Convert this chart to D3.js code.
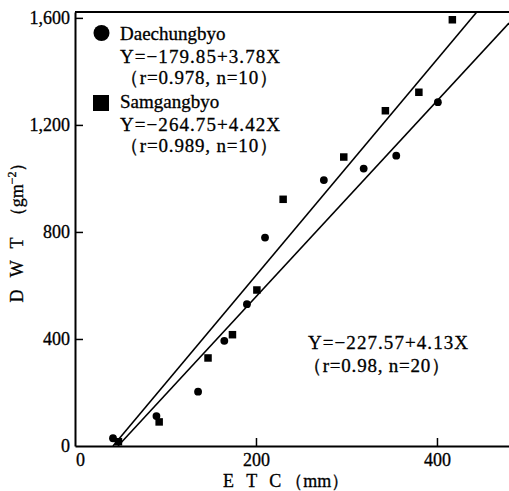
<!DOCTYPE html>
<html>
<head>
<meta charset="utf-8">
<script src="https://cdn.jsdelivr.net/npm/d3@7"></script>
<style>
  body { margin: 0; background: #fff; }
  svg { display: block; }
  text { font-family: "Liberation Serif", "Times New Roman", serif; fill: #000; stroke: #000; stroke-width: 0.3px; }
</style>
</head>
<body>
<div id="wrapper"></div>
<script>

// 1. Data
const daechungEtc = [42, 90, 136, 165, 190, 210, 275, 319, 355, 401]
const daechungDwt = [29, 112, 203, 393, 530, 779, 994, 1037, 1085, 1285]
const samgangEtc = [48, 93, 147, 174, 201, 230, 297, 343, 380, 417]
const samgangDwt = [16, 90, 329, 416, 583, 922, 1080, 1253, 1322, 1593]

// the two regression lines as they are drawn: [start, end]
const lineEtc = [[42, 444], [47.5, 479.6]]
const lineDwt = [[0, 1622], [0, 1581]]

const xTicks = [0, 200, 400]
const yTicks = [0, 400, 800, 1200, 1600]

const seriesNames = ["Daechungbyo", "Samgangbyo"]
const seriesEquations = ["Y=−179.85+3.78X", "Y=−264.75+4.42X"]
const seriesStats = ["（r=0.978,  n=10）", "（r=0.989,  n=10）"]
const pooledEquation = "Y=−227.57+4.13X"
const pooledStats = "（r=0.98,  n=20）"

// 2. Dimensions
let dimensions = {
  width: 509,
  height: 491,
  margin: { top: 12, right: 0, bottom: 45, left: 75 },
}
dimensions.boundedWidth = dimensions.width - dimensions.margin.left - dimensions.margin.right
dimensions.boundedHeight = dimensions.height - dimensions.margin.top - dimensions.margin.bottom

// 3. Canvas
const wrapper = d3.select("#wrapper")
  .append("svg")
    .attr("width", dimensions.width)
    .attr("height", dimensions.height)

const bounds = wrapper.append("g")
    .attr("transform", `translate(${dimensions.margin.left},${dimensions.margin.top})`)

// 4. Scales
const xScale = d3.scaleLinear()
  .domain([0, 479.6])
  .range([0, dimensions.boundedWidth])

const yScale = d3.scaleLinear()
  .domain([0, 1622])
  .range([dimensions.boundedHeight, 0])

// 5. Data marks
const lineGenerator = d3.line()
  .x(d => xScale(d[0]))
  .y(d => yScale(d[1]))

lineEtc.forEach((xs, i) => {
  bounds.append("path")
    .attr("d", lineGenerator(xs.map((x, j) => [x, lineDwt[i][j]])))
    .attr("fill", "none")
    .attr("stroke", "#000")
    .attr("stroke-width", 1.6)
})

bounds.selectAll(".dae")
  .data(daechungEtc)
  .join("circle")
    .attr("class", "dae")
    .attr("cx", d => xScale(d))
    .attr("cy", (d, i) => yScale(daechungDwt[i]))
    .attr("r", 3.9)
    .attr("fill", "#000")

const sq = 7.5
bounds.selectAll(".sam")
  .data(samgangEtc)
  .join("rect")
    .attr("class", "sam")
    .attr("x", d => xScale(d) - sq / 2)
    .attr("y", (d, i) => yScale(samgangDwt[i]) - sq / 2)
    .attr("width", sq)
    .attr("height", sq)
    .attr("fill", "#000")

// 6. Peripherals
const yAxisGenerator = d3.axisLeft(yScale)
  .tickValues(yTicks)
  .tickFormat(d3.format(","))
  .tickSizeInner(-8)
  .tickSizeOuter(0)
  .tickPadding(5)

const yAxis = bounds.append("g").call(yAxisGenerator)

const xAxisGenerator = d3.axisBottom(xScale)
  .tickValues(xTicks)
  .tickSizeInner(-8)
  .tickSizeOuter(0)
  .tickPadding(7)

const xAxis = bounds.append("g")
  .attr("transform", `translate(0,${dimensions.boundedHeight})`)
  .call(xAxisGenerator)

;[xAxis, yAxis].forEach(ax => {
  ax.select(".domain").attr("stroke", "#000").attr("stroke-width", 2)
  ax.selectAll(".tick line").attr("stroke", "#000").attr("stroke-width", 1.5)
  ax.selectAll(".tick text").style("font-size", "18px").attr("fill", "#000")
})
xAxis.selectAll(".tick").filter(d => d === 0).select("line").remove()
xAxis.selectAll(".tick").filter(d => d === 0).select("text").attr("dx", 5)
yAxis.selectAll(".tick").filter(d => d === 0).select("line").remove()

// top frame line
bounds.append("line")
  .attr("x1", 0)
  .attr("x2", dimensions.boundedWidth)
  .attr("y1", 0)
  .attr("y2", 0)
  .attr("stroke", "#000")
  .attr("stroke-width", 2)

// axis titles
const xTitle = wrapper.append("text")
  .attr("x", 223)
  .attr("y", 487)
  .style("font-size", "18px")
xTitle.append("tspan").style("letter-spacing", "4px").text("E T C")
xTitle.append("tspan").text("（mm）")

const yTitle = wrapper.append("text")
  .attr("transform", "translate(23,228) rotate(-90)")
  .attr("text-anchor", "middle")
  .style("font-size", "18px")
yTitle.append("tspan").style("letter-spacing", "4px").text("D W T ")
yTitle.append("tspan").text("（gm")
yTitle.append("tspan").attr("dy", -7).style("font-size", "12px").text("−2")
yTitle.append("tspan").attr("dy", 7).text("）")

// legend
const legend = wrapper.append("g")
const legendTop = [40, 108]
legend.append("circle")
  .attr("cx", 101.5).attr("cy", 33).attr("r", 8).attr("fill", "#000")
legend.append("rect")
  .attr("x", 93).attr("y", 95).attr("width", 16).attr("height", 16).attr("fill", "#000")

seriesNames.forEach((name, i) => {
  const y0 = legendTop[i]
  legend.append("text").attr("x", 120).attr("y", y0)
    .style("font-size", "19px").text(name)
  legend.append("text").attr("x", 120).attr("y", y0 + 23)
    .attr("textLength", 160).attr("lengthAdjust", "spacing")
    .style("font-size", "19px").text(seriesEquations[i])
  legend.append("text").attr("x", 120).attr("y", y0 + 44)
    .attr("textLength", 158).attr("lengthAdjust", "spacing")
    .style("font-size", "19px").text(seriesStats[i])
})

legend.append("text").attr("x", 308).attr("y", 349)
  .attr("textLength", 160).attr("lengthAdjust", "spacing")
  .style("font-size", "19px").text(pooledEquation)
legend.append("text").attr("x", 303).attr("y", 372)
  .attr("textLength", 147).attr("lengthAdjust", "spacing")
  .style("font-size", "19px").text(pooledStats)

</script>
</body>
</html>
